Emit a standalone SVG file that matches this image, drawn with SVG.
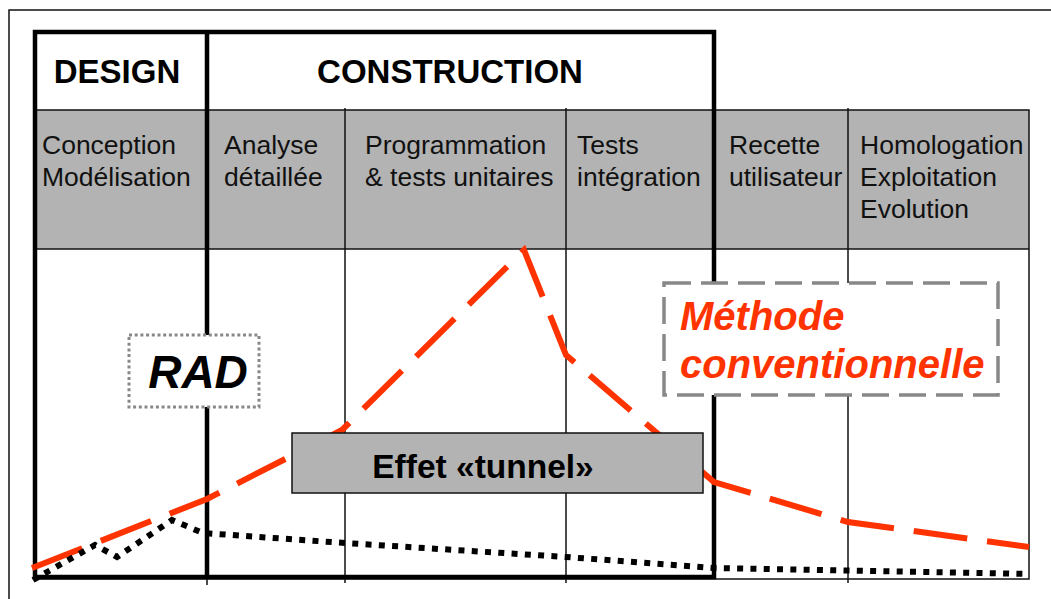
<svg xmlns="http://www.w3.org/2000/svg" width="1051" height="599" viewBox="0 0 1051 599">
<style>
.t{font-family:"Liberation Sans",Arial,sans-serif;font-size:26.5px;fill:#111}
.h{font-family:"Liberation Sans",Arial,sans-serif;font-size:33px;font-weight:bold;fill:#000}
.thin{stroke:#111;stroke-width:1.5;fill:none}
.thick{stroke:#000;stroke-width:4.5;fill:none}
.bi{font-family:"Liberation Sans",Arial,sans-serif;font-weight:bold;font-style:italic}
</style>
<rect width="1051" height="599" fill="#fff"/>
<g id="frame">
<path d="M1060,10 H9 V610" class="thin" stroke="#333"/>
</g>
<g id="table">
<rect x="35" y="110" width="994" height="139" fill="#b3b3b3"/>
<rect x="35" y="110" width="994" height="469" class="thin"/>
<line x1="35" y1="249" x2="1029" y2="249" class="thin"/>
<line x1="207" y1="110" x2="207" y2="585" class="thin"/>
<line x1="345" y1="108" x2="345" y2="583" class="thin"/>
<line x1="566" y1="108" x2="566" y2="583" class="thin"/>
<line x1="848" y1="108" x2="848" y2="583" class="thin"/>
</g>
<g id="phases">
<rect x="35" y="32" width="679" height="545" class="thick"/>
<line x1="207" y1="32" x2="207" y2="577" class="thick"/>
<text class="h" x="117" y="83" text-anchor="middle">DESIGN</text>
<text class="h" x="450" y="83" text-anchor="middle">CONSTRUCTION</text>
</g>
<g id="col-conception"><text class="t" x="42" y="154">Conception</text><text class="t" x="42" y="186">Modélisation</text></g>
<g id="col-analyse"><text class="t" x="224" y="154">Analyse</text><text class="t" x="224" y="186">détaillée</text></g>
<g id="col-programmation"><text class="t" x="365" y="154">Programmation</text><text class="t" x="365" y="186">&amp; tests unitaires</text></g>
<g id="col-tests"><text class="t" x="577" y="154">Tests</text><text class="t" x="577" y="186">intégration</text></g>
<g id="col-recette"><text class="t" x="729" y="154">Recette</text><text class="t" x="729" y="186">utilisateur</text></g>
<g id="col-homologation"><text class="t" x="860" y="154">Homologation</text><text class="t" x="860" y="186">Exploitation</text><text class="t" x="860" y="218">Evolution</text></g>
<g id="connectors">
<polyline points="32,568 207,499 342,430 524,250 566,355 714,482 848,522 1029,547" fill="none" stroke="#ff3300" stroke-width="6" stroke-dasharray="54 20"/>
<polyline points="33,580 95,545 117,557 172,520 203,533 345,543 566,557 714,568 1029,574" fill="none" stroke="#000" stroke-width="6" stroke-dasharray="6 7.3"/>
</g>
<g id="rad">
<rect x="129" y="335" width="130" height="72" fill="#fff" stroke="#888" stroke-width="3" stroke-dasharray="3 2.7"/>
<text class="bi" x="198" y="388" text-anchor="middle" font-size="46" fill="#000">RAD</text>
</g>
<g id="methode">
<rect x="664" y="283" width="334" height="112" fill="#fff" stroke="#888" stroke-width="3.5" stroke-dasharray="27 10"/>
<text class="bi" x="680" y="330" font-size="40" fill="#ff3300">Méthode</text>
<text class="bi" x="680" y="378" font-size="40" fill="#ff3300">conventionnelle</text>
</g>
<g id="tunnel">
<rect x="292" y="433" width="411" height="60" fill="#b3b3b3" stroke="#111" stroke-width="1.5"/>
<text x="483" y="478" text-anchor="middle" font-family="Liberation Sans,Arial,sans-serif" font-size="33.5" font-weight="bold" fill="#000">Effet «tunnel»</text>
</g>
</svg>
